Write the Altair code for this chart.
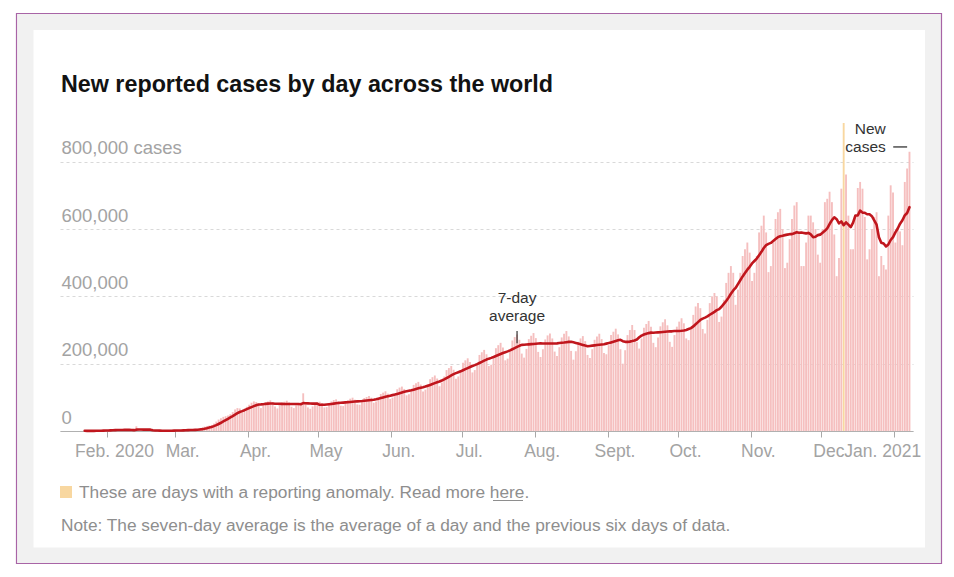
import altair as alt
import pandas as pd

first_day = "2020-01-22"
# New reported cases per day across the world, in thousands.
# Jan 22-26 2020, then one row per week (Mon..Sun), last row Jan 4-7 2021.
cases_thousands = [
    0.6, 0.3, 0.3, 0.6, 0.7,
    0.8, 1.8, 1.5, 2.0, 2.1, 2.1, 2.6,
    3.1, 3.9, 3.7, 3.2, 3.4, 2.7, 3.0,
    2.5, 2.0, 0.5, 14.0, 5.1, 2.6, 2.1,
    2.1, 1.9, 0.5, 0.6, 1.0, 1.0, 0.6,
    0.5, 0.9, 0.8, 1.2, 1.4, 1.8, 2.4,
    1.8, 2.5, 2.3, 2.8, 3.9, 4.0, 3.8,
    4.5, 5.5, 8.0, 9.5, 13.0, 15.0, 16.0,
    18, 22, 28, 34, 38, 42, 44,
    46, 50, 56, 64, 68, 67, 62,
    66, 72, 78, 84, 88, 86, 78,
    68, 76, 85, 88, 91, 86, 73,
    67, 75, 84, 87, 90, 85, 72,
    68, 76, 82, 84, 112, 82, 70,
    66, 73, 82, 85, 87, 83, 70,
    71, 79, 88, 92, 94, 89, 75,
    74, 83, 92, 96, 99, 93, 79,
    78, 87, 98, 101, 104, 99, 84,
    88, 99, 110, 114, 118, 111, 95,
    99, 111, 124, 129, 132, 125, 106,
    109, 122, 137, 142, 146, 138, 117,
    123, 138, 154, 160, 165, 156, 133,
    144, 162, 181, 187, 193, 182, 155,
    162, 181, 203, 210, 216, 205, 174,
    181, 202, 226, 234, 241, 228, 193,
    197, 220, 246, 255, 262, 248, 210,
    215, 241, 269, 279, 287, 271, 230,
    218, 244, 273, 283, 291, 276, 235,
    220, 243, 272, 284, 290, 275, 236,
    223, 249, 278, 289, 297, 281, 238,
    212, 237, 265, 275, 282, 267, 226,
    217, 243, 271, 281, 289, 273, 232,
    228, 255, 285, 295, 304, 287, 243,
    200, 240, 285, 300, 315, 300, 264,
    245, 275, 307, 318, 327, 310, 262,
    249, 278, 311, 323, 332, 314, 265,
    250, 285, 310, 325, 335, 320, 275,
    270, 305, 345, 370, 380, 365, 303,
    290, 330, 380, 400, 410, 400, 324,
    340, 390, 440, 470, 490, 470, 375,
    420, 470, 520, 540, 560, 530, 446,
    470, 520, 590, 610, 640, 590, 472,
    490, 560, 630, 650, 660, 600, 484,
    500, 570, 630, 670, 680, 590, 490,
    490, 560, 640, 640, 620, 600, 524,
    500, 600, 680, 690, 711, 680, 584,
    460, 514, 720, 915, 762, 640, 540,
    540, 640, 722, 740, 720, 636, 510,
    540, 600, 636, 650, 460, 520, 493,
    480, 640, 730, 709, 560, 600, 593,
    552, 740, 780, 830,
]
anomaly_days = ["2020-12-10"]

y_ticks = [0, 200000, 400000, 600000, 800000]
y_labels = ["0", "200,000", "400,000", "600,000", "800,000 cases"]

tick_months = ["2020-02-01", "2020-03-01", "2020-04-01", "2020-05-01", "2020-06-01",
               "2020-07-01", "2020-08-01", "2020-09-01", "2020-10-01", "2020-11-01",
               "2020-12-01", "2021-01-01"]
tick_labels = ["Feb. 2020", "Mar.", "Apr.", "May", "Jun.", "Jul.", "Aug.", "Sept.",
               "Oct.", "Nov.", "Dec", "Jan. 2021"]

title_text = "New reported cases by day across the world"
legend_text = "These are days with a reporting anomaly. Read more here."
note_text = "Note: The seven-day average is the average of a day and the previous six days of data."

avg_label_date = "2020-07-24T12:00:00Z"
avg_label_lines = ["7-day", "average"]
avg_label_vals = [381000, 326000]
avg_pointer = [297000, 261000]

new_label_date = "2020-12-28T10:00:00Z"
new_label_lines = ["New", "cases"]
new_label_vals = [882000, 828000]
new_dash = ["2020-12-31T14:00:00Z", "2021-01-06T12:00:00Z", 844000]

PINK = "#f5bfbf"
ORANGE = "#f8d7a0"
RED = "#c0161d"
GRAY = "#a3a3a3"
FONT = "Liberation Sans"

dates = pd.date_range(first_day, periods=len(cases_thousands), freq="D").strftime("%Y-%m-%d")
df = pd.DataFrame({"date": list(dates), "cases": [v * 1000 for v in cases_thousands]})
df["anomaly"] = df["date"].isin(anomaly_days)


def utc_dt(s):
    y, m, d = (int(p) for p in s.split("-"))
    return alt.DateTime(year=y, month=m, date=d, utc=True)


x_scale = alt.Scale(type="utc", domain=[utc_dt("2020-01-12"), utc_dt("2021-01-09")])
y_scale = alt.Scale(domain=[0, 930000], nice=False)

by_month = {}
for s, lab in zip(tick_months, tick_labels):
    by_month[int(s.split("-")[1]) - 1] = lab
x_label_expr = "[" + ",".join("'%s'" % by_month[i] for i in range(12)) + "][utcmonth(datum.value)]"
y_label_expr = "datum.value >= %d ? '%s' : format(datum.value, ',')" % (y_ticks[-1], y_labels[-1])

x_axis = alt.Axis(
    values=[utc_dt(s) for s in tick_months], labelExpr=x_label_expr, title=None,
    grid=False, domain=True, domainColor="#b0b0b0", domainWidth=1,
    ticks=True, tickSize=6, tickColor="#a8a8a8", tickWidth=1,
    labelFont=FONT, labelFontSize=17.5, labelColor=GRAY, labelPadding=5,
    labelOverlap=False, labelFlush=False, labelBound=False,
    labelOffset={"condition": {"test": "utcyear(datum.value) == 2021", "value": -12}, "value": 7},
)
y_axis = alt.Axis(
    values=y_ticks, labelExpr=y_label_expr, title=None, orient="left",
    domain=False, ticks=False, labelAlign="left", labelBaseline="alphabetic",
    labelPadding=-1, labelOffset=-8, labelFont=FONT, labelFontSize=18.5, labelColor=GRAY,
    grid=True, gridDash=[3, 3], gridColor="#d9d9d9", gridWidth=1,
)

base = alt.Chart(df)

bars = base.transform_calculate(
    x0="time(toDate(datum.date)) + 8640000",
    x1="time(toDate(datum.date)) + 77760000",
).mark_rect().encode(
    x=alt.X("x0:T", scale=x_scale, axis=x_axis),
    x2="x1:T",
    y=alt.Y("cases:Q", scale=y_scale, axis=y_axis),
    y2=alt.datum(0),
    color=alt.Color("anomaly:N", scale=alt.Scale(domain=[False, True], range=[PINK, ORANGE]), legend=None),
)

line = base.transform_calculate(
    avgval="datum.anomaly ? null : datum.cases"
).transform_window(
    avg="mean(avgval)", frame=[-6, 0], sort=[alt.SortField("date")]
).transform_calculate(
    xm="time(toDate(datum.date)) + 43200000"
).mark_line(color=RED, strokeWidth=2.6, strokeCap="round", strokeJoin="round").encode(
    x=alt.X("xm:T", axis=x_axis),
    y=alt.Y("avg:Q", axis=y_axis),
)

avg_df = pd.DataFrame({"date": [avg_label_date] * 2, "val": avg_label_vals, "text": avg_label_lines})
avg_text = alt.Chart(avg_df).mark_text(
    font=FONT, fontSize=15.5, color="#333333", align="center", baseline="alphabetic"
).encode(x=alt.X("date:T", axis=x_axis), y=alt.Y("val:Q", axis=y_axis), text="text:N")

ptr_df = pd.DataFrame({"date": [avg_label_date], "y1": [avg_pointer[0]], "y2": [avg_pointer[1]]})
avg_ptr = alt.Chart(ptr_df).mark_rule(color="#333333", strokeWidth=1.2).encode(
    x=alt.X("date:T", axis=x_axis), y=alt.Y("y1:Q", axis=y_axis), y2="y2:Q")

new_df = pd.DataFrame({"date": [new_label_date] * 2, "val": new_label_vals, "text": new_label_lines})
new_text = alt.Chart(new_df).mark_text(
    font=FONT, fontSize=15.5, color="#333333", align="right", baseline="alphabetic"
).encode(x=alt.X("date:T", axis=x_axis), y=alt.Y("val:Q", axis=y_axis), text="text:N")

dash_df = pd.DataFrame({"a": [new_dash[0]], "b": [new_dash[1]], "v": [new_dash[2]]})
new_ptr = alt.Chart(dash_df).mark_rule(color="#333333", strokeWidth=1.3).encode(
    x=alt.X("a:T", axis=x_axis), x2="b:T", y=alt.Y("v:Q", axis=y_axis))

one = alt.Chart(pd.DataFrame({"k": [0]}))

band = one.mark_rect(fillOpacity=0, stroke="#f1f1f1", strokeWidth=16).encode(
    x=alt.value(-34.5), x2=alt.value(873), y=alt.value(-96), y2=alt.value(437.5))
border = one.mark_rect(fillOpacity=0, stroke="#a864a6", strokeWidth=1.2).encode(
    x=alt.value(-43.5), x2=alt.value(881.5), y=alt.value(-104.5), y2=alt.value(445.5))

title = one.mark_text(text=title_text, font=FONT, fontSize=23.3, fontWeight="bold",
                      color="#121212", align="left", baseline="alphabetic").encode(
    x=alt.value(1), y=alt.value(-26))

swatch = one.mark_rect(color=ORANGE).encode(
    x=alt.value(0), x2=alt.value(12), y=alt.value(368), y2=alt.value(380))
legend = one.mark_text(text=legend_text, font=FONT, fontSize=17.3, color="#8e8e8e",
                       align="left", baseline="alphabetic").encode(
    x=alt.value(19), y=alt.value(380))
underline = one.mark_rule(color="#8e8e8e", strokeWidth=1).encode(
    x=alt.value(433), x2=alt.value(463), y=alt.value(382.5))
note = one.mark_text(text=note_text, font=FONT, fontSize=17.3, color="#8e8e8e",
                     align="left", baseline="alphabetic").encode(
    x=alt.value(1), y=alt.value(413))

chart = alt.layer(
    band, border, bars, line, avg_ptr, avg_text, new_text, new_ptr,
    title, swatch, legend, underline, note,
).properties(
    width=853, height=313,
    padding={"left": 52, "top": 110, "right": 32, "bottom": 140},
    autosize=alt.AutoSizeParams(type="none"),
    background="white",
).configure_view(stroke=None)

chart.save("out.html", embed_options={"renderer": "svg", "actions": False})
